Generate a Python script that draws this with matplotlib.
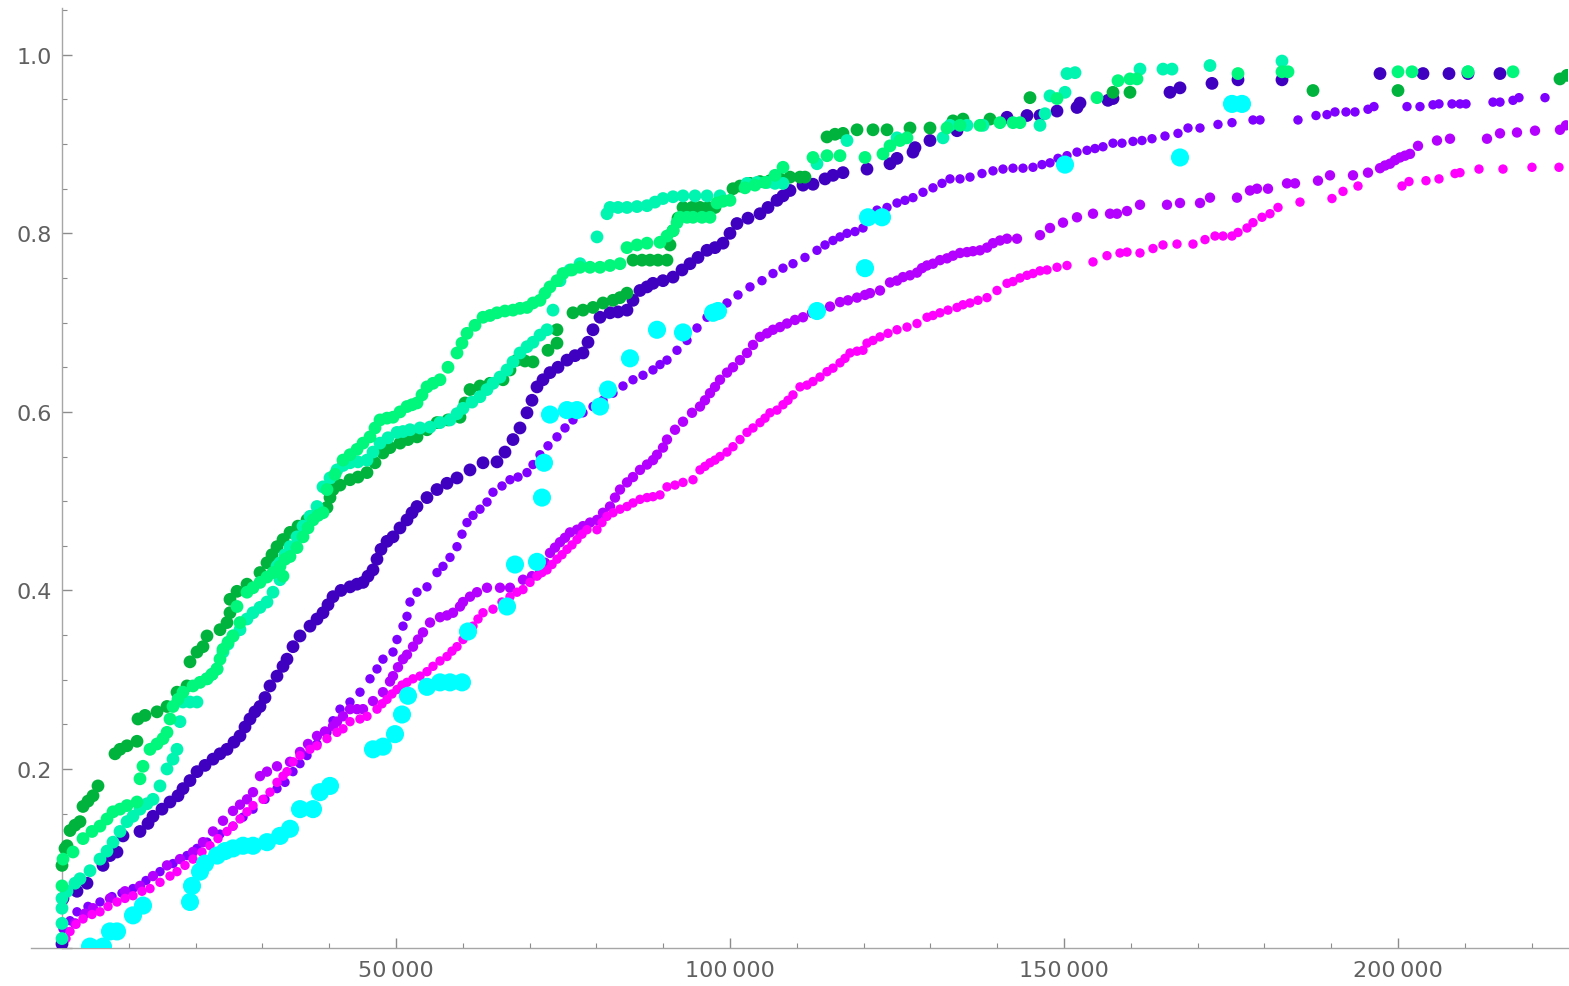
import matplotlib.pyplot as plt
from matplotlib.ticker import MultipleLocator, FuncFormatter

# Series values (x, fraction)
indigo_x = [0, 150, 2246, 3743, 6138, 7186, 8234, 9132, 11677, 12874, 13623, 14970, 16168, 17365,
            18114, 19162, 20210, 21407, 22605, 23653, 24701, 25748, 26647, 27395, 28144, 28892,
            29641, 30389, 31138, 32186, 33084, 33683, 34581, 35629, 37126, 38174, 39072, 39820,
            40569, 41766, 43114, 44162, 45060, 45808, 46557, 47156, 47754, 48653, 49551, 50599,
            51647, 52395, 53144, 54641, 56138, 57635, 59132, 61078, 63024, 65120, 66317, 67515,
            68563, 69611, 70359, 71108, 72006, 73054, 74252, 75599, 76796, 77994, 78742, 79491,
            80539, 82036, 83234, 84581, 85479, 86527, 87575, 88473, 89970, 91467, 92814, 94012,
            95210, 96557, 97755, 98952, 100000, 101048, 102695, 104491, 105689, 107036, 107934,
            108982, 110928, 112425, 114222, 115419, 116916, 120509, 123952, 125000, 127395,
            127695, 129940, 133982, 141467, 144461, 146407, 148952, 151946, 152395, 156586,
            157335, 165868, 167365, 172155, 176047, 182634, 197305, 203742, 207634, 210478, 215268]
indigo_y = [0.004, 0.055, 0.063, 0.072, 0.092, 0.103, 0.107, 0.125, 0.130, 0.139, 0.147, 0.155, 0.163, 0.170,
            0.178, 0.187, 0.197, 0.204, 0.211, 0.217, 0.222, 0.230, 0.237, 0.247, 0.256, 0.264,
            0.270, 0.280, 0.293, 0.304, 0.315, 0.323, 0.337, 0.349, 0.360, 0.368, 0.375, 0.384,
            0.393, 0.400, 0.404, 0.407, 0.409, 0.416, 0.423, 0.435, 0.446, 0.455, 0.460, 0.470,
            0.479, 0.487, 0.494, 0.504, 0.513, 0.520, 0.526, 0.535, 0.543, 0.544, 0.555, 0.569,
            0.582, 0.599, 0.613, 0.628, 0.636, 0.644, 0.650, 0.658, 0.663, 0.666, 0.678, 0.692,
            0.706, 0.711, 0.712, 0.714, 0.725, 0.736, 0.740, 0.744, 0.747, 0.751, 0.759, 0.766,
            0.773, 0.781, 0.784, 0.789, 0.800, 0.811, 0.817, 0.822, 0.829, 0.837, 0.842,
            0.848, 0.854, 0.855, 0.861, 0.865, 0.868, 0.872, 0.878, 0.884, 0.891,
            0.896, 0.904, 0.915, 0.930, 0.932, 0.932, 0.937, 0.941, 0.946, 0.949,
            0.951, 0.958, 0.963, 0.968, 0.972, 0.972, 0.979, 0.979, 0.979, 0.979, 0.979]

violet_x = [150, 1198, 2246, 3892, 5689, 7485, 8982, 10629, 12575, 14671, 16617, 18713, 20210, 21707,
            23653, 25599, 27096, 28593, 30389, 32186, 33383, 34581, 35629, 36677, 38174, 39671,
            40569, 41617, 43114, 44611, 46108, 47156, 48054, 49551, 50150, 51048, 51647, 52096,
            53144, 54641, 56138, 57036, 58084, 59132, 59880, 60629, 61527, 62575, 63623, 64521,
            65868, 67066, 68263, 69611, 70509, 71557, 72754, 74102, 75299, 76497, 77994, 79491,
            80988, 82485, 83982, 85479, 86976, 88473, 89521, 90569, 92066, 93563, 95060, 96557,
            98054, 99551, 101197, 102994, 104790, 106437, 107934, 109431, 111227, 113024, 114222,
            115419, 116467, 117515, 118712, 119910, 120958, 122006, 123503, 125000, 126197,
            127395, 128892, 130389, 131737, 132934, 134431, 135928, 137724, 139371, 140868,
            142365, 143862, 145359, 146707, 147904, 149101, 150449, 151946, 153443, 154640,
            155838, 157335, 158682, 160329, 161676, 163173, 165119, 167065, 168562, 170359,
            173053, 175149, 178293, 179341, 185029, 187724, 189370, 190568, 192215, 193562,
            195508, 196406, 201347, 203293, 205239, 206137, 208083, 209281, 210179, 214221,
            215268, 217214, 218112, 222004]
violet_y = [0.021, 0.030, 0.040, 0.046, 0.051, 0.057, 0.061, 0.066, 0.075, 0.085, 0.094, 0.103, 0.111, 0.118,
            0.127, 0.136, 0.146, 0.155, 0.166, 0.178, 0.185, 0.197, 0.206, 0.215, 0.228, 0.241,
            0.254, 0.267, 0.275, 0.286, 0.301, 0.312, 0.323, 0.331, 0.345, 0.360, 0.371, 0.387,
            0.398, 0.404, 0.420, 0.427, 0.437, 0.449, 0.463, 0.476, 0.484, 0.491, 0.499, 0.510,
            0.517, 0.524, 0.527, 0.532, 0.541, 0.552, 0.562, 0.572, 0.582, 0.591, 0.599, 0.606,
            0.613, 0.621, 0.629, 0.636, 0.641, 0.647, 0.653, 0.658, 0.669, 0.680, 0.694, 0.706,
            0.714, 0.722, 0.731, 0.740, 0.747, 0.755, 0.761, 0.766, 0.773, 0.781, 0.787,
            0.792, 0.796, 0.800, 0.802, 0.806, 0.815, 0.826, 0.829, 0.834, 0.837,
            0.840, 0.846, 0.851, 0.856, 0.861, 0.861, 0.863, 0.867, 0.870, 0.872,
            0.873, 0.873, 0.874, 0.877, 0.879, 0.884, 0.887, 0.891, 0.893, 0.895,
            0.897, 0.901, 0.901, 0.903, 0.904, 0.906, 0.909, 0.912, 0.918, 0.918,
            0.922, 0.924, 0.927, 0.927, 0.927, 0.932, 0.933, 0.936, 0.936, 0.936,
            0.939, 0.942, 0.942, 0.942, 0.944, 0.945, 0.945, 0.945, 0.945, 0.947,
            0.947, 0.949, 0.952, 0.952]

purple_x = [150, 1946, 3443, 4641, 7186, 9431, 11677, 13623, 15719, 17665, 19611, 21108, 22605, 24102,
            25599, 26647, 27695, 28593, 29641, 30689, 32186, 34132, 35629, 36826, 38174, 39371,
            40569, 41168, 42066, 43114, 44162, 45060, 46557, 48054, 49102, 49551, 50299, 51048,
            51647, 52545, 53293, 54042, 55090, 56587, 57635, 58533, 59581, 60030, 61078, 62126,
            63623, 65569, 67066, 69012, 70359, 71557, 72305, 73054, 73802, 74551, 75299, 76048,
            77096, 77994, 79042, 80090, 80988, 82036, 82784, 83533, 84581, 85479, 86527, 87575,
            88473, 89072, 89970, 90569, 91766, 92964, 94311, 95509, 96257, 97006, 97755, 98503,
            99551, 100449, 101497, 102545, 103443, 104491, 105539, 106437, 107485, 108533,
            109730, 110928, 112275, 113473, 114970, 116467, 117665, 119012, 120210, 120958,
            122455, 123952, 125000, 125898, 126946, 127994, 128742, 129491, 130389, 131437,
            132485, 133383, 134431, 135479, 136377, 137425, 138473, 139371, 140419, 141467,
            142964, 146407, 147904, 149850, 151946, 154341, 156886, 157934, 159431, 161377,
            165419, 167365, 170359, 171856, 175898, 177844, 178892, 180538, 183383, 184580,
            188023, 189820, 193263, 195508, 197305, 198054, 198802, 199550, 200299, 201047,
            201796, 202994, 205838, 207784, 213323, 215269, 217814, 220508, 224250, 225149]
purple_y = [0.010, 0.027, 0.038, 0.044, 0.055, 0.063, 0.069, 0.080, 0.092, 0.099, 0.107, 0.118, 0.130, 0.142,
            0.153, 0.160, 0.166, 0.174, 0.192, 0.197, 0.203, 0.208, 0.219, 0.228, 0.237, 0.242,
            0.248, 0.253, 0.259, 0.267, 0.267, 0.267, 0.276, 0.286, 0.298, 0.304, 0.314, 0.323,
            0.328, 0.337, 0.345, 0.353, 0.364, 0.370, 0.372, 0.375, 0.382, 0.387, 0.393, 0.398,
            0.403, 0.403, 0.403, 0.412, 0.416, 0.420, 0.431, 0.442, 0.448, 0.454, 0.459, 0.465,
            0.468, 0.472, 0.476, 0.479, 0.487, 0.494, 0.504, 0.513, 0.521, 0.527, 0.535, 0.541,
            0.546, 0.552, 0.560, 0.569, 0.580, 0.589, 0.599, 0.606, 0.613, 0.621, 0.628, 0.636,
            0.644, 0.650, 0.658, 0.666, 0.675, 0.684, 0.688, 0.692, 0.695, 0.699,
            0.703, 0.706, 0.711, 0.714, 0.718, 0.723, 0.725, 0.728, 0.731, 0.733,
            0.736, 0.745, 0.747, 0.751, 0.753, 0.756, 0.761, 0.764, 0.766, 0.770,
            0.772, 0.775, 0.778, 0.779, 0.780, 0.781, 0.784, 0.789, 0.792, 0.794,
            0.794, 0.798, 0.806, 0.812, 0.818, 0.822, 0.822, 0.822, 0.825, 0.832,
            0.832, 0.834, 0.834, 0.840, 0.840, 0.848, 0.850, 0.850, 0.856, 0.856,
            0.859, 0.865, 0.865, 0.868, 0.873, 0.876, 0.878, 0.882, 0.885, 0.887,
            0.889, 0.898, 0.904, 0.906, 0.906, 0.912, 0.913, 0.915, 0.916, 0.921]

magenta_x = [0, 599, 1198, 2096, 3144, 4491, 5689, 6886, 8234, 9431, 10629, 11976, 13174, 14671,
             16168, 17216, 18413, 19611, 20958, 22156, 23353, 24701, 25599, 26647, 27695, 28593,
             30090, 31138, 32186, 33084, 33683, 34581, 35629, 37126, 38174, 39671, 41168, 42066,
             43114, 44611, 45659, 47156, 47904, 48653, 49401, 50150, 50898, 51647, 52545, 53593,
             54641, 55539, 56587, 57635, 58383, 59132, 60030, 60778, 61527, 62275, 63024, 64521,
             65868, 67066, 68114, 69012, 70060, 71108, 71856, 72605, 73353, 74102, 74850, 75599,
             76347, 77096, 77844, 78593, 80090, 80838, 81587, 82485, 83533, 84581, 85479, 86527,
             87575, 88473, 89521, 90569, 91766, 92964, 94461, 95509, 96257, 97006, 97755, 98503,
             99551, 100449, 101497, 102545, 103443, 104491, 105239, 105988, 107036, 107934,
             108682, 109431, 110479, 111527, 112425, 113473, 114521, 115419, 116467, 117215,
             117964, 119012, 119910, 120509, 121407, 122455, 123653, 125000, 126497, 127994,
             129491, 130389, 131437, 132635, 133982, 134880, 135928, 137126, 138473, 139970,
             141467, 142365, 143413, 144461, 145359, 146407, 147455, 148952, 150449, 154341,
             156437, 158383, 159431, 161377, 163323, 164820, 166916, 169311, 171107, 172604,
             173802, 175149, 176047, 177395, 178293, 179640, 180838, 182036, 185329, 190119,
             191766, 194011, 200598, 201646, 204191, 206137, 208532, 209281, 212125, 215718,
             220059, 224100]
magenta_y = [0.002, 0.010, 0.018, 0.026, 0.032, 0.037, 0.040, 0.046, 0.051, 0.055, 0.058, 0.063, 0.066, 0.073,
             0.080, 0.085, 0.092, 0.099, 0.107, 0.114, 0.122, 0.130, 0.136, 0.144, 0.152, 0.159,
             0.166, 0.174, 0.185, 0.192, 0.197, 0.208, 0.215, 0.222, 0.226, 0.234, 0.241, 0.245,
             0.253, 0.256, 0.259, 0.267, 0.273, 0.278, 0.284, 0.289, 0.294, 0.297, 0.301, 0.304,
             0.309, 0.315, 0.321, 0.326, 0.332, 0.337, 0.345, 0.353, 0.360, 0.368, 0.375, 0.379,
             0.387, 0.393, 0.398, 0.401, 0.409, 0.416, 0.420, 0.423, 0.429, 0.435, 0.440, 0.446,
             0.451, 0.457, 0.463, 0.468, 0.468, 0.476, 0.483, 0.487, 0.491, 0.494, 0.498, 0.502,
             0.504, 0.505, 0.507, 0.516, 0.518, 0.521, 0.524, 0.535, 0.539, 0.543, 0.546, 0.550,
             0.555, 0.561, 0.569, 0.577, 0.582, 0.588, 0.593, 0.599, 0.602, 0.608,
             0.613, 0.619, 0.628, 0.630, 0.634, 0.639, 0.645, 0.649, 0.655, 0.660,
             0.666, 0.668, 0.669, 0.677, 0.680, 0.684, 0.688, 0.692, 0.695, 0.699,
             0.706, 0.708, 0.711, 0.714, 0.717, 0.720, 0.722, 0.725, 0.728, 0.736,
             0.744, 0.746, 0.750, 0.753, 0.755, 0.758, 0.759, 0.762, 0.764, 0.768,
             0.775, 0.778, 0.779, 0.778, 0.783, 0.787, 0.788, 0.788, 0.793, 0.797,
             0.797, 0.797, 0.801, 0.806, 0.812, 0.818, 0.822, 0.829, 0.835, 0.839,
             0.847, 0.853, 0.853, 0.858, 0.859, 0.861, 0.867, 0.868, 0.872, 0.872,
             0.874, 0.874]

cyan_x = [4192, 6138, 7186, 8234, 10629, 12126, 19162, 19461, 20659, 21407, 23204, 24401, 25599,
          27096, 28593, 30689, 32635, 34132, 35629, 37575, 38623, 40120, 46557, 48054, 49850,
          50898, 51796, 54641, 56587, 58084, 59880, 60778, 66617, 67815, 71108, 71856, 72156,
          73054, 75599, 77096, 80539, 81737, 85030, 89072, 92964, 97455, 98204, 113024, 120210,
          120659, 122755, 150150, 167365, 175149, 176646]
cyan_y = [0.001, 0.001, 0.018, 0.018, 0.036, 0.047, 0.051, 0.069, 0.085, 0.094, 0.103, 0.108, 0.111,
          0.114, 0.114, 0.118, 0.125, 0.133, 0.155, 0.155, 0.174, 0.181, 0.222, 0.225, 0.239,
          0.261, 0.282, 0.292, 0.297, 0.297, 0.297, 0.354, 0.382, 0.429, 0.432, 0.504, 0.543,
          0.597, 0.602, 0.602, 0.606, 0.625, 0.660, 0.692, 0.689, 0.711, 0.713, 0.713, 0.761,
          0.818, 0.818, 0.877, 0.885, 0.945, 0.945]

dkgreen_x = [0, 449, 749, 1198, 1946, 2695, 3144, 3892, 4641, 5389, 7934, 8683, 9731, 11228, 11377,
             12425, 14222, 15719, 17216, 18713, 19162, 20210, 21108, 21707, 23653, 24701, 25150,
             25150, 26198, 27695, 29641, 30689, 31437, 32186, 33084, 34132, 35329, 36677, 38174,
             39671, 40120, 40569, 41617, 43114, 44311, 45659, 46856, 48054, 49102, 50599, 51796,
             53144, 54641, 56138, 57784, 59581, 60330, 61078, 62575, 64072, 66018, 67066, 68114,
             69311, 70509, 72754, 74102, 74102, 76497, 77994, 79491, 80988, 82485, 83533, 84581,
             85479, 86826, 88024, 89222, 90569, 91018, 91467, 92216, 92964, 94311, 95509, 96707,
             97755, 100449, 101497, 102994, 104491, 105988, 107485, 108982, 110479, 111227,
             114521, 115718, 116916, 119012, 121407, 123503, 126946, 129940, 133383, 134880,
             138922, 144910, 157335, 159880, 187275, 200000, 224250, 225300]
dkgreen_y = [0.092, 0.111, 0.114, 0.131, 0.137, 0.141, 0.158, 0.164, 0.170, 0.181, 0.217, 0.222, 0.226, 0.231, 0.256,
             0.260, 0.264, 0.270, 0.286, 0.293, 0.320, 0.331, 0.337, 0.349, 0.356, 0.364, 0.375,
             0.390, 0.399, 0.407, 0.420, 0.431, 0.440, 0.449, 0.457, 0.465, 0.472, 0.479, 0.486,
             0.493, 0.504, 0.513, 0.518, 0.524, 0.527, 0.532, 0.543, 0.554, 0.560, 0.565, 0.569,
             0.572, 0.580, 0.588, 0.591, 0.594, 0.610, 0.625, 0.629, 0.632, 0.636, 0.647, 0.658,
             0.657, 0.656, 0.669, 0.677, 0.692, 0.711, 0.714, 0.717, 0.722, 0.725, 0.728, 0.733,
             0.770, 0.770, 0.770, 0.770, 0.770, 0.787, 0.803, 0.817, 0.829, 0.829, 0.829, 0.829,
             0.829, 0.850, 0.853, 0.856, 0.858, 0.859, 0.861, 0.863, 0.863, 0.863,
             0.908, 0.911, 0.912, 0.916, 0.916, 0.916, 0.918, 0.918, 0.926, 0.928,
             0.928, 0.952, 0.958, 0.958, 0.960, 0.960, 0.973, 0.977]

spring_x = [0, 150, 1647, 3144, 4491, 5689, 6737, 7635, 8683, 9731, 11228, 11677, 12126, 13174,
            14222, 15120, 15719, 16168, 16617, 17365, 18114, 19611, 20659, 21707, 22455, 23204,
            23653, 24102, 24850, 25599, 26647, 26198, 27695, 28593, 29641, 30689, 31587, 33084,
            32635, 33383, 34132, 35180, 36078, 36826, 37575, 38323, 39072, 39671, 40868, 42066,
            43114, 44162, 45060, 46108, 46856, 47605, 48653, 49551, 50599, 51647, 52395, 53144,
            53892, 54641, 55539, 56587, 57784, 59132, 59880, 60629, 61826, 63024, 64072, 65120,
            66317, 67515, 68563, 69611, 70509, 71557, 72305, 73054, 74102, 75000, 76347, 77545,
            79042, 80539, 82036, 83533, 84581, 86078, 87575, 89521, 90569, 91467, 92066, 92515,
            93563, 94461, 95808, 97006, 98054, 98952, 100000, 102246, 103743, 105240, 106737,
            107934, 112425, 114521, 116467, 120210, 122904, 123952, 125449, 126497, 132485,
            134431, 137425, 140419, 142365, 143413, 148952, 154940, 158084, 159880, 160928,
            176047, 182634, 183533, 200000, 202096, 210479, 217216]
spring_y = [0.069, 0.099, 0.107, 0.122, 0.130, 0.136, 0.144, 0.152, 0.155, 0.159, 0.163, 0.189, 0.203, 0.222,
            0.228, 0.234, 0.241, 0.256, 0.270, 0.278, 0.286, 0.293, 0.297, 0.301, 0.306, 0.312,
            0.323, 0.334, 0.342, 0.349, 0.364, 0.382, 0.398, 0.403, 0.409, 0.415, 0.420, 0.416,
            0.427, 0.435, 0.438, 0.448, 0.460, 0.470, 0.479, 0.484, 0.487, 0.513, 0.530, 0.546,
            0.552, 0.558, 0.565, 0.572, 0.582, 0.591, 0.593, 0.594, 0.600, 0.606, 0.608, 0.610,
            0.619, 0.628, 0.632, 0.636, 0.650, 0.666, 0.677, 0.688, 0.697, 0.706, 0.708, 0.711,
            0.713, 0.714, 0.716, 0.717, 0.722, 0.725, 0.733, 0.740, 0.747, 0.755, 0.759, 0.762,
            0.762, 0.762, 0.764, 0.766, 0.784, 0.787, 0.789, 0.790, 0.797, 0.803, 0.812, 0.818,
            0.818, 0.818, 0.818, 0.818, 0.834, 0.836, 0.837, 0.851, 0.854, 0.857, 0.865,
            0.874, 0.885, 0.887, 0.887, 0.885, 0.889, 0.898, 0.904, 0.907, 0.918,
            0.921, 0.921, 0.924, 0.924, 0.924, 0.951, 0.952, 0.971, 0.973, 0.973,
            0.979, 0.981, 0.981, 0.981, 0.981, 0.981, 0.981]

aqua_x = [0, 0, 0, 0, 749, 1946, 2695, 4192, 5689, 6737, 7635, 8683, 9731, 10629, 11677, 12725,
          13623, 14671, 15719, 16617, 17216, 17665, 18114, 19162, 20210, 21707, 22455, 23204,
          24102, 24850, 25599, 26647, 27695, 28593, 29641, 30689, 31587, 32635, 32186, 32635,
          33383, 34132, 35180, 36078, 37126, 38174, 39072, 40120, 41168, 42066, 43114, 44311,
          45659, 46557, 47605, 48802, 50150, 51048, 52096, 53593, 55090, 56587, 58084, 59132,
          60030, 61377, 62575, 63623, 64521, 65569, 66617, 67515, 68563, 69611, 70509, 71557,
          72605, 73503, 74551, 76048, 77545, 80090, 81587, 82036, 83234, 84581, 86078, 87575,
          88772, 89970, 91467, 92964, 94760, 96557, 98503, 102545, 104042, 105539, 106737,
          107934, 113024, 117515, 125000, 131886, 132934, 135479, 137874, 146407, 147156,
          147904, 150150, 150449, 151647, 161377, 164820, 166168, 171856, 182634, 210479]
aqua_y = [0.010, 0.027, 0.044, 0.055, 0.063, 0.072, 0.077, 0.086, 0.099, 0.108, 0.118, 0.130, 0.141, 0.147,
          0.155, 0.161, 0.166, 0.181, 0.200, 0.211, 0.222, 0.253, 0.275, 0.275, 0.275, 0.301,
          0.306, 0.312, 0.331, 0.340, 0.349, 0.356, 0.368, 0.375, 0.381, 0.387, 0.398, 0.412,
          0.427, 0.431, 0.440, 0.449, 0.460, 0.472, 0.483, 0.494, 0.516, 0.526, 0.535, 0.540,
          0.543, 0.544, 0.546, 0.555, 0.565, 0.571, 0.577, 0.578, 0.580, 0.582, 0.583, 0.588,
          0.591, 0.598, 0.604, 0.611, 0.617, 0.625, 0.632, 0.639, 0.647, 0.656, 0.666, 0.673,
          0.678, 0.686, 0.692, 0.714, 0.747, 0.759, 0.766, 0.796, 0.822, 0.829, 0.829, 0.829,
          0.830, 0.831, 0.835, 0.839, 0.841, 0.842, 0.842, 0.842, 0.842, 0.856, 0.857,
          0.857, 0.856, 0.856, 0.878, 0.904, 0.907, 0.907, 0.921, 0.921, 0.921, 0.921,
          0.934, 0.954, 0.958, 0.979, 0.980, 0.984, 0.984, 0.984, 0.988, 0.993, 0.981]

# Draw order, colours and point sizes
series = [
    (violet_x, violet_y, "#7f00ff", 46),
    (purple_x, purple_y, "#b300ff", 56),
    (magenta_x, magenta_y, "#ff00ff", 46),
    (indigo_x, indigo_y, "#3f00bf", 85),
    (cyan_x, cyan_y, "#00ffff", 170),
    (dkgreen_x, dkgreen_y, "#00b33c", 85),
    (aqua_x, aqua_y, "#00f5b0", 85),
    (spring_x, spring_y, "#00f77c", 85),
]

fig = plt.figure(figsize=(15.69, 9.87), dpi=100)
ax = fig.add_axes([31 / 1569, 38.5 / 987, 1537 / 1569, 940 / 987])

for xs, ys, col, size in series:
    ax.scatter(xs, ys, s=size, color=col, edgecolors="none", zorder=3)

ax.set_xlim(-4640, 225450)
ax.set_ylim(0, 1.053)

ax.spines["left"].set_position(("data", 0))
ax.spines["top"].set_visible(False)
ax.spines["right"].set_visible(False)
for sp in ("left", "bottom"):
    ax.spines[sp].set_color("#a6a6a6")
    ax.spines[sp].set_linewidth(1.0)

ax.xaxis.set_major_locator(MultipleLocator(50000))
ax.xaxis.set_minor_locator(MultipleLocator(10000))
ax.yaxis.set_major_locator(MultipleLocator(0.2))
ax.yaxis.set_minor_locator(MultipleLocator(0.05))

ax.xaxis.set_major_formatter(FuncFormatter(
    lambda v, p: "" if v <= 0 else f"{int(v):,}".replace(",", "\u2009")))
ax.yaxis.set_major_formatter(FuncFormatter(lambda v, p: "" if v <= 0 else f"{v:.1f}"))

ax.tick_params(which="both", direction="in", color="#8c8c8c", labelcolor="#606060", labelsize=16)
ax.tick_params(which="major", length=7, width=1)
ax.tick_params(which="minor", length=3.8, width=0.8)
ax.tick_params(axis="y", pad=7)
ax.tick_params(axis="x", pad=9)

fig.savefig("out.png", dpi=100)
